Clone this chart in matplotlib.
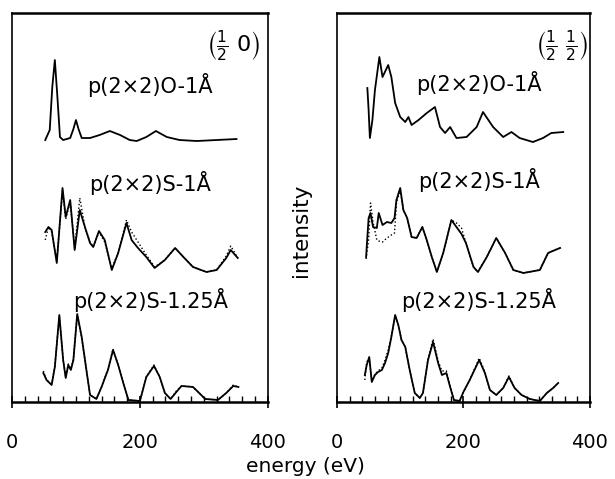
import matplotlib.pyplot as plt
from matplotlib.ticker import MultipleLocator, FixedLocator

# energies (eV) and intensities (arb. units, baseline of each curve at 0)
# left panel, (1/2 0) beam
l_o_e = [52, 59, 63, 67, 71, 75, 80, 91, 96, 100, 104, 109, 122, 137, 153, 169, 184, 195, 210, 225, 242, 262, 289, 320, 351]
l_o_i = [7, 17, 60, 87, 50, 10, 7, 9, 18, 27, 18, 9, 9, 12, 16, 12, 7, 6, 10, 16, 10, 7, 6, 7, 8]

l_s1_e = [52, 57, 62, 70, 79, 84, 91, 98, 106, 114, 122, 127, 136, 145, 156, 166, 179, 187, 197, 210,
          223, 239, 255, 268, 283, 304, 320, 335, 342, 353]
l_s1_i = [45, 50, 47, 14, 89, 60, 77, 27, 67, 50, 34, 30, 46, 37, 7, 24, 54, 37, 29, 20,
          9, 17, 29, 20, 10, 5, 7, 19, 27, 19]
l_s1_dot = [37, 50, 45, 16, 86, 58, 75, 29, 79, 50, 35, 30, 45, 35, 9, 24, 57, 45, 35, 22,
            10, 17, 29, 20, 10, 5, 7, 21, 31, 19]

l_s2_e = [49, 54, 62, 67, 74, 80, 84, 88, 92, 96, 102, 109, 117, 122, 132, 140, 150, 158, 166, 174,
          182, 200, 210, 222, 231, 239, 248, 257, 265, 283, 291, 302, 322, 335, 346, 354]
l_s2_i = [29, 22, 17, 35, 87, 42, 24, 37, 32, 42, 88, 65, 29, 7, 3, 15, 32, 52, 37, 19,
          2, 1, 25, 36, 25, 9, 3, 10, 16, 15, 10, 3, 2, 9, 16, 15]
l_s2_dot = [31, 22, 18, 36, 86, 42, 25, 38, 33, 43, 87, 64, 29, 7, 3, 15, 33, 53, 37, 19,
            2, 1, 25, 37, 25, 9, 3, 11, 16, 15, 10, 3, 2, 9, 17, 15]

# right panel, (1/2 1/2) beam
r_o_e = [48, 50, 52, 56, 60, 67, 72, 81, 86, 92, 100, 108, 113, 118, 129, 142, 155, 163, 171, 179,
         189, 205, 221, 231, 247, 263, 276, 289, 310, 326, 339, 358]
r_o_i = [59, 37, 9, 27, 57, 90, 70, 82, 70, 44, 30, 25, 30, 22, 27, 34, 40, 20, 14, 20,
         9, 10, 20, 35, 20, 10, 15, 9, 5, 9, 14, 15]

r_s1_e = [46, 50, 53, 57, 63, 66, 72, 79, 86, 91, 94, 100, 105, 111, 118, 126, 135, 142, 150, 158,
          168, 181, 189, 197, 204, 216, 223, 237, 252, 266, 279, 295, 321, 334, 345, 353]
r_s1_i = [20, 59, 64, 50, 49, 64, 52, 55, 54, 59, 77, 89, 67, 59, 40, 39, 50, 37, 20, 5,
          24, 57, 50, 43, 34, 10, 5, 20, 39, 24, 7, 4, 7, 24, 27, 29]
r_s1_dot = [18, 37, 74, 55, 37, 36, 35, 39, 42, 44, 74, 87, 67, 59, 40, 39, 50, 37, 20, 5,
            24, 57, 54, 49, 34, 10, 5, 20, 39, 24, 7, 4, 7, 24, 27, 29]

r_s2_e = [44, 47, 51, 55, 60, 65, 71, 76, 81, 86, 92, 97, 102, 108, 115, 123, 131, 136, 144, 152,
          160, 166, 173, 179, 185, 194, 200, 210, 225, 234, 242, 252, 263, 272, 281, 292, 305, 321,
          332, 342, 350]
r_s2_i = [27, 37, 45, 20, 27, 30, 32, 39, 49, 65, 87, 77, 62, 55, 32, 9, 4, 9, 42, 60,
          39, 27, 29, 15, 2, 1, 10, 22, 42, 29, 12, 7, 14, 25, 14, 7, 3, 1,
          9, 14, 19]
r_s2_dot = [22, 40, 44, 21, 28, 31, 34, 42, 52, 66, 86, 77, 62, 55, 32, 9, 4, 9, 43, 63,
            41, 31, 31, 16, 2, 1, 10, 22, 44, 30, 12, 7, 14, 26, 14, 7, 3, 1,
            9, 14, 19]

offsets = [255, 125, 0]
labels = ["p(2×2)O-1Å", "p(2×2)S-1Å", "p(2×2)S-1.25Å"]
label_y = [[317, 219, 102], [319, 222, 102]]
beams = [r"$\left(\frac{1}{2}\ 0\right)$", r"$\left(\frac{1}{2}\ \frac{1}{2}\right)$"]

panels = [
    [(l_o_e, l_o_i, None), (l_s1_e, l_s1_i, l_s1_dot), (l_s2_e, l_s2_i, l_s2_dot)],
    [(r_o_e, r_o_i, None), (r_s1_e, r_s1_i, r_s1_dot), (r_s2_e, r_s2_i, r_s2_dot)],
]

fig = plt.figure(figsize=(6.15, 4.79), dpi=100)
rects = [[0.0195, 0.1608, 0.416, 0.812], [0.548, 0.1608, 0.411, 0.812]]
label_x = [0.54, 0.56]
beam_x = [0.97, 0.995]

for k, (rect, curves) in enumerate(zip(rects, panels)):
    ax = fig.add_axes(rect)
    for off, (e, i, d) in zip(offsets, curves):
        ax.plot(e, [v + off for v in i], color='black', lw=1.3)
        if d is not None:
            ax.plot(e, [v + off for v in d], color='black', lw=1.0, ls=':')
    for ly, lab in zip(label_y[k], labels):
        ax.text(label_x[k], ly, lab, fontsize=15, ha='center', va='center',
                transform=ax.get_yaxis_transform())
    ax.text(beam_x[k], 356, beams[k], fontsize=16, ha='right', va='center',
            transform=ax.get_yaxis_transform())
    ax.set_xlim(0, 400)
    ax.set_ylim(0, 389)
    ax.set_yticks([])
    ax.xaxis.set_major_locator(FixedLocator([0, 200, 400]))
    ax.xaxis.set_minor_locator(MultipleLocator(20))
    ax.tick_params(axis='x', which='major', direction='inout', length=8, width=1.2,
                   labelsize=14, pad=18)
    ax.tick_params(axis='x', which='minor', direction='in', length=4, width=1)
    for s in ['left', 'right']:
        ax.spines[s].set_linewidth(1.2)
    ax.spines['top'].set_linewidth(1.8)
    ax.spines['bottom'].set_linewidth(1.8)

fig.text(0.49, 1 - 230 / 479, "intensity", rotation=90, fontsize=15.5, ha='center', va='center')
fig.text(0.496, 1 - 466 / 479, "energy (eV)", fontsize=14.5, ha='center', va='center')

fig.savefig("out.png", dpi=100)
